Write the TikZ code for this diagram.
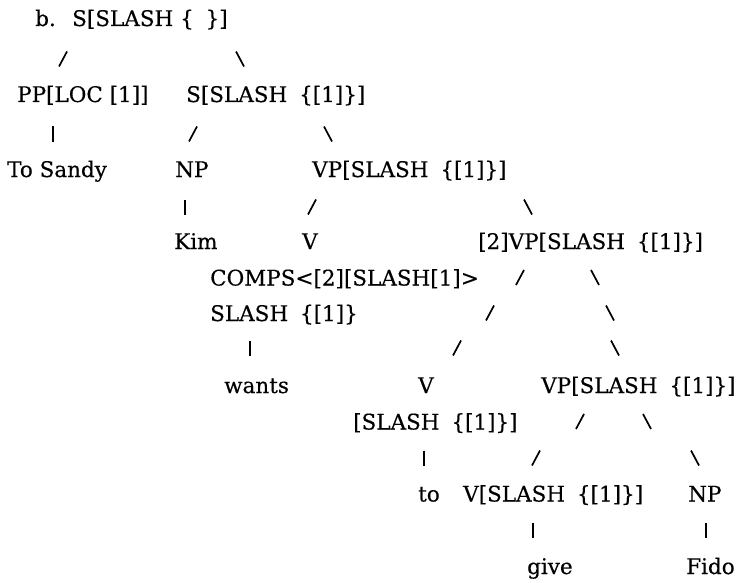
\documentclass[tikz,border=0pt]{standalone}
\usepackage{fontspec}
\newfontfamily\treefont{DejaVu Serif}[FakeBold=0.4]
% short branch strokes of the typed tree, centred at (x,y)
\newcommand\brFwd[2]{\draw[branch] ({#1-4},{#2+7.5}) -- ({#1+4},{#2-7.5});}
\newcommand\brBack[2]{\draw[branch] ({#1-4},{#2-7.5}) -- ({#1+4},{#2+7.5});}
\newcommand\brBar[2]{\draw[branch] (#1,{#2-7.5}) -- (#1,{#2+7.5});}
\newcommand\gap{\hspace{0.55em}}
\begin{document}
\begin{tikzpicture}[x=1pt,y=-1pt,
  lbl/.style={anchor=base west, inner sep=0pt, font=\treefont\fontsize{21.5}{25}\selectfont},
  branch/.style={line width=1.7pt}]
\useasboundingbox (0,0) rectangle (741,583);

% row 1
\node[lbl] (tag)  at (35,26) {b.};
\node[lbl] (root) at (72,26) {S[SLASH \{\gap\}]};
% row 2
\brFwd{63}{59} \brBack{240}{59}
% row 3
\node[lbl] (pp) at (17,102)  {PP[LOC [1]]};
\node[lbl] (s1) at (186,102) {S[SLASH\gap\{[1]\}]};
% row 4
\brBar{53}{134} \brFwd{193}{134} \brBack{328}{134}
% row 5
\node[lbl] (tosandy) at (7,177)   {To Sandy};
\node[lbl] (np1)     at (175,177) {NP};
\node[lbl] (vp1)     at (312,177) {VP[SLASH\gap\{[1]\}]};
% row 6
\brBar{185}{207} \brFwd{312}{207} \brBack{528}{207}
% row 7
\node[lbl] (kim) at (174,249) {Kim};
\node[lbl] (v1)  at (302,249) {V};
\node[lbl] (vp2) at (478,249) {[2]VP[SLASH\gap\{[1]\}]};
% row 8
\node[lbl] (comps) at (210,285.5) {COMPS<[2][SLASH[1]>};
\brFwd{520}{277.5} \brBack{595}{277.5}
% row 9
\node[lbl] (slash1) at (210,321) {SLASH\gap\{[1]\}};
\brFwd{490}{313} \brBack{610}{313}
% row 10
\brBar{250}{348} \brFwd{457}{348} \brBack{615}{348}
% row 11
\node[lbl] (wants) at (224,393) {wants};
\node[lbl] (v2)    at (418,393) {V};
\node[lbl] (vp3)   at (541,393) {VP[SLASH\gap\{[1]\}]};
% row 12
\node[lbl] (v2slash) at (353,429.5) {[SLASH\gap\{[1]\}]};
\brFwd{580}{421.5} \brBack{647}{421.5}
% row 13
\brBar{424}{458} \brFwd{536}{458} \brBack{695}{458}
% row 14
\node[lbl] (to)    at (418,501.5) {to};
\node[lbl] (vgive) at (463,501.5) {V[SLASH\gap\{[1]\}]};
\node[lbl] (np2)   at (688,501.5) {NP};
% row 15
\brBar{533}{530} \brBar{706}{530}
% row 16
\node[lbl] (give) at (527,574) {give};
\node[lbl] (fido) at (686,574) {Fido};
\end{tikzpicture}
\end{document}
